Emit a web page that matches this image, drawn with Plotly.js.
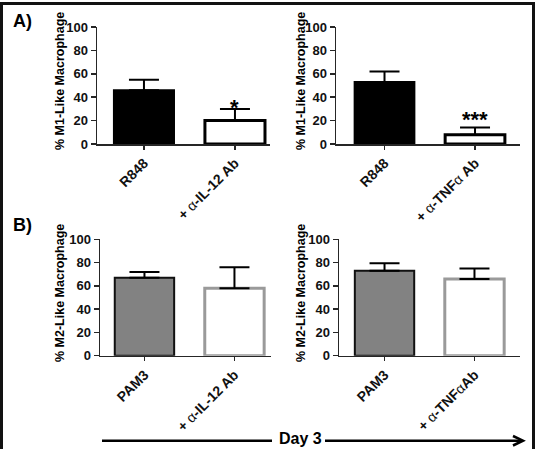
<!DOCTYPE html>
<html>
<head>
<meta charset="utf-8">
<script src="https://cdn.plot.ly/plotly-3.0.1.min.js"></script>
<style>
  html, body { margin: 0; padding: 0; background: #fff; }
  #chart { width: 536px; height: 449px; }
</style>
</head>
<body>
<div id="chart"></div>
<script>
// Day 3 macrophage polarisation (% of cells), mean with upper SEM
const alpha = '<span style="font-weight:normal">α</span>';

const groupsM1IL12 = ['R848', '+ ' + alpha + '-IL-12 Ab'];
const m1IL12 = [46, 20];
const m1IL12Err = [9, 10];

const groupsM1TNF = ['R848', '+ ' + alpha + '-TNF' + alpha + ' Ab'];
const m1TNF = [53, 8];
const m1TNFErr = [9, 6];

const groupsM2IL12 = ['PAM3', '+ ' + alpha + '-IL-12 Ab'];
const m2IL12 = [67, 58];
const m2IL12Err = [5, 18];

const groupsM2TNF = ['PAM3', '+ ' + alpha + '-TNF' + alpha + 'Ab'];
const m2TNF = [73, 66];
const m2TNFErr = [6.5, 9];

const yTicks = [0, 20, 40, 60, 80, 100];
const signifM1 = ['*', '***'];

const FONT = 'Arial, "Liberation Sans", Helvetica, sans-serif';
const AXC = '#262626';
const W = 536, H = 449;
const px = v => v / W;          // horizontal pixel -> paper
const py = v => 1 - v / H;      // vertical pixel -> paper

function barTrace(xs, ys, err, fills, lines, widths, xa, ya) {
  return {
    type: 'bar', x: xs, y: ys, xaxis: xa, yaxis: ya, width: 0.66,
    marker: { color: fills, line: { color: lines, width: widths } },
    error_y: { type: 'data', array: err, symmetric: false, arrayminus: [0, 0],
               color: '#000', thickness: 2, width: 15 },
    hoverinfo: 'none'
  };
}

const data = [
  barTrace(groupsM1IL12, m1IL12, m1IL12Err, ['#000', '#fff'], ['#000', '#000'], [2, 3], 'x', 'y'),
  barTrace(groupsM1TNF, m1TNF, m1TNFErr, ['#000', '#fff'], ['#000', '#000'], [2, 3], 'x2', 'y2'),
  barTrace(groupsM2IL12, m2IL12, m2IL12Err, ['#828282', '#fff'], ['#111', '#9a9a9a'], [2, 3], 'x3', 'y3'),
  barTrace(groupsM2TNF, m2TNF, m2TNFErr, ['#828282', '#fff'], ['#111', '#9a9a9a'], [2, 3], 'x4', 'y4')
];

function xAxis(dom, rng, anchor) {
  return {
    domain: dom, range: rng, type: 'category', anchor: anchor,
    showline: true, linecolor: AXC, linewidth: 1.5,
    ticks: 'outside', ticklen: 4, tickwidth: 1.5, tickcolor: AXC,
    tickangle: -45, showgrid: false, zeroline: false, fixedrange: true,
    tickfont: { family: FONT, size: 14, color: '#111', weight: 'bold' }
  };
}
function yAxis(dom, anchor) {
  return {
    domain: dom, range: [0, 100], anchor: anchor,
    tickvals: yTicks, ticktext: yTicks.map(String),
    showline: true, linecolor: AXC, linewidth: 1.5,
    ticks: 'outside', ticklen: 5, tickwidth: 1.5, tickcolor: AXC,
    showgrid: false, zeroline: false, fixedrange: true,
    tickfont: { family: FONT, size: 13, color: '#111', weight: 'bold' }
  };
}

const rowA = [py(144), py(27)];
const rowB = [py(355.7), py(239.3)];

function label(text, x, y, size, extra) {
  return Object.assign({
    text: text, xref: 'paper', yref: 'paper', x: x, y: y,
    xanchor: 'center', yanchor: 'middle', showarrow: false,
    font: { family: FONT, size: size, color: '#000', weight: 'bold' }
  }, extra || {});
}

const annotations = [
  label('A)', px(22), py(21), 18),
  label('B)', px(22), py(225), 18),
  label('% M1-Like Macrophage', px(60), py(81), 12.5, { textangle: -90 }),
  label('% M1-Like Macrophage', px(301), py(81), 12.5, { textangle: -90 }),
  label('% M2-Like Macrophage', px(60), py(293), 12.5, { textangle: -90 }),
  label('% M2-Like Macrophage', px(301), py(293), 12.5, { textangle: -90 }),
  label('Day 3', px(300), py(438), 16),
  // significance marks above the treated bars
  { text: signifM1[0], xref: 'x', yref: 'y', x: groupsM1IL12[1], y: m1IL12[1] + m1IL12Err[1],
    xanchor: 'center', yanchor: 'bottom', yshift: -13, showarrow: false,
    font: { family: FONT, size: 22, color: '#000', weight: 'bold' } },
  { text: signifM1[1], xref: 'x2', yref: 'y2', x: groupsM1TNF[1], y: m1TNF[1] + m1TNFErr[1],
    xanchor: 'center', yanchor: 'bottom', yshift: -6, showarrow: false,
    font: { family: FONT, size: 22, color: '#000', weight: 'bold' } }
];

const shapes = [
  // outer frame (runs past the bottom edge)
  { type: 'rect', xref: 'paper', yref: 'paper', x0: px(1.5), x1: px(533.5), y0: py(470), y1: py(3.5),
    line: { color: '#111', width: 3 } },
  // time line with arrow
  { type: 'line', xref: 'paper', yref: 'paper', x0: px(102), x1: px(272), y0: py(440.7), y1: py(440.7),
    line: { color: '#000', width: 2.5 } },
  { type: 'line', xref: 'paper', yref: 'paper', x0: px(325), x1: px(522), y0: py(440.7), y1: py(440.7),
    line: { color: '#000', width: 2.5 } },
  { type: 'path', xref: 'paper', yref: 'paper',
    path: 'M' + px(513) + ',' + py(436) + ' L' + px(523) + ',' + py(440.7) + ' L' + px(513) + ',' + py(445.5),
    line: { color: '#000', width: 2.5 } }
];

const layout = {
  width: W, height: H, margin: { l: 0, r: 0, t: 0, b: 0 },
  paper_bgcolor: '#fff', plot_bgcolor: 'rgba(0,0,0,0)', showlegend: false,
  font: { family: FONT },
  xaxis: xAxis([px(97), px(270)], [-0.516, 1.385], 'y'),
  yaxis: yAxis(rowA, 'x'),
  xaxis2: xAxis([px(336), px(520)], [-0.536, 1.497], 'y2'),
  yaxis2: yAxis(rowA, 'x2'),
  xaxis3: xAxis([px(100), px(271)], [-0.494, 1.406], 'y3'),
  yaxis3: yAxis(rowB, 'x3'),
  xaxis4: xAxis([px(339), px(520)], [-0.506, 1.506], 'y4'),
  yaxis4: yAxis(rowB, 'x4'),
  annotations: annotations,
  shapes: shapes
};

Plotly.newPlot('chart', data, layout, { staticPlot: true, displayModeBar: false });
</script>
</body>
</html>
